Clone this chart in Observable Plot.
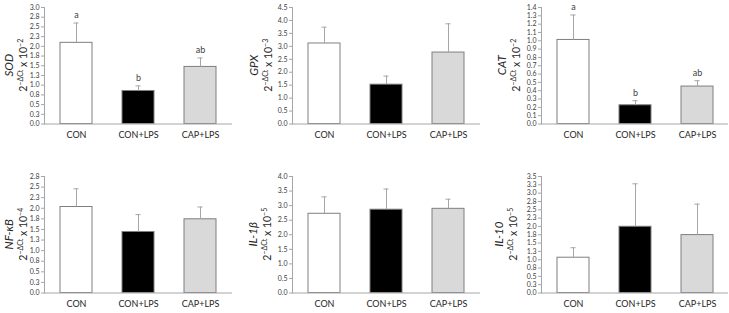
<!DOCTYPE html>
<html>
<head>
<meta charset="utf-8">
<script src="https://cdn.jsdelivr.net/npm/d3@7"></script>
<script src="https://cdn.jsdelivr.net/npm/@observablehq/plot@0.6"></script>
<style>
  body { margin: 0; background: #fff; }
  #wrap { position: relative; width: 729px; height: 313px; overflow: hidden; background: #fff; }
  #wrap svg { position: absolute; }
</style>
</head>
<body>
<div id="wrap"></div>
<script>
// ---- data ----
const categories = ["CON", "CON+LPS", "CAP+LPS"];

const sodMean = [2.09, 0.85, 1.47];
const sodErr  = [0.51, 0.13, 0.23];
const sodLetters = ["a", "b", "ab"];

const gpxMean = [3.11, 1.52, 2.76];
const gpxErr  = [0.63, 0.33, 1.11];
const gpxLetters = ["", "", ""];

const catMean = [1.01, 0.225, 0.45];
const catErr  = [0.30, 0.055, 0.07];
const catLetters = ["a", "b", "ab"];

const nfkbMean = [2.03, 1.44, 1.74];
const nfkbErr  = [0.43, 0.41, 0.29];
const nfkbLetters = ["", "", ""];

const il1bMean = [2.72, 2.86, 2.89];
const il1bErr  = [0.58, 0.71, 0.33];
const il1bLetters = ["", "", ""];

const il10Mean = [1.06, 1.99, 1.74];
const il10Err  = [0.30, 1.29, 0.93];
const il10Letters = ["", "", ""];

const q = ["0.0","0.3","0.5","0.8","1.0","1.3","1.5","1.8","2.0","2.3","2.5","2.8","3.0","3.3","3.5"];
const qVals = [0,0.25,0.5,0.75,1,1.25,1.5,1.75,2,2.25,2.5,2.75,3,3.25,3.5];
const sodTicks = qVals.slice(0, 13), sodTickLabels = q.slice(0, 13);
const gpxTicks = [0,0.5,1,1.5,2,2.5,3,3.5,4,4.5];
const gpxTickLabels = ["0.0","0.5","1.0","1.5","2.0","2.5","3.0","3.5","4.0","4.5"];
const catTicks = [0,0.1,0.2,0.3,0.4,0.5,0.6,0.7,0.8,0.9,1.0,1.1,1.2,1.3,1.4];
const catTickLabels = ["0.0","0.1","0.2","0.3","0.4","0.5","0.6","0.7","0.8","0.9","1.0","1.1","1.2","1.3","1.4"];
const nfkbTicks = qVals.slice(0, 12), nfkbTickLabels = q.slice(0, 12);
const il1bTicks = [0,0.5,1,1.5,2,2.5,3,3.5,4];
const il1bTickLabels = ["0.0","0.5","1.0","1.5","2.0","2.5","3.0","3.5","4.0"];
const il10Ticks = qVals.slice(0, 15), il10TickLabels = q.slice(0, 15);

const fills = ["#ffffff", "#000000", "#d9d9d9"];

// ---- panels (layout only) ----
const panels = [
  {gene: "SOD",   exp: "−2", mean: sodMean,  err: sodErr,  letters: sodLetters,  ticks: sodTicks,  labels: sodTickLabels,  left: 0,   top: 0,   ml: 44, mr: 11, gx: 9,  lx: 23},
  {gene: "GPX",   exp: "−3", mean: gpxMean,  err: gpxErr,  letters: gpxLetters,  ticks: gpxTicks,  labels: gpxTickLabels,  left: 243, top: 0,   ml: 49, mr: 6,  gx: 11, lx: 25},
  {gene: "CAT",   exp: "−2", mean: catMean,  err: catErr,  letters: catLetters,  ticks: catTicks,  labels: catTickLabels,  left: 486, top: 0,   ml: 55, mr: 1,  gx: 16, lx: 30},
  {gene: "NF-κB", exp: "−4", mean: nfkbMean, err: nfkbErr, letters: nfkbLetters, ticks: nfkbTicks, labels: nfkbTickLabels, left: 0,   top: 169, ml: 44, mr: 11, gx: 9,  lx: 23},
  {gene: "IL-1β", exp: "−5", mean: il1bMean, err: il1bErr, letters: il1bLetters, ticks: il1bTicks, labels: il1bTickLabels, left: 243, top: 169, ml: 49, mr: 6,  gx: 10, lx: 24},
  {gene: "IL-10", exp: "−5", mean: il10Mean, err: il10Err, letters: il10Letters, ticks: il10Ticks, labels: il10TickLabels, left: 486, top: 169, ml: 55, mr: 1,  gx: 13, lx: 27}
];

const W = 243, H = 150, MT = 7, MB = 26.5;
const PADI = 0.49;
const wrap = document.getElementById("wrap");

for (const p of panels) {
  const rows = categories.map((c, i) => ({cat: c, mean: p.mean[i], top: p.mean[i] + p.err[i], letter: p.letters[i], fill: fills[i]}));
  const yMax = p.ticks[p.ticks.length - 1];
  const band = (W - p.ml - p.mr) / 3 * (1 - PADI);
  const capInset = (band - 5) / 2;
  const svg = Plot.plot({
    width: W, height: H,
    marginLeft: p.ml, marginRight: p.mr, marginTop: MT, marginBottom: MB,
    style: {fontFamily: "Lato, 'Open Sans', sans-serif", fontSize: "7px", color: "#404040", background: "transparent"},
    x: {domain: categories, paddingInner: PADI, paddingOuter: PADI / 2},
    y: {domain: [0, yMax]},
    marks: [
      Plot.barY(rows, {x: "cat", y: "mean", fill: "fill", stroke: "#7f7f7f", strokeWidth: 1}),
      Plot.ruleX(rows, {x: "cat", y1: "mean", y2: "top", stroke: "#a6a6a6", strokeWidth: 1}),
      Plot.tickY(rows, {x: "cat", y: "top", stroke: "#a6a6a6", strokeWidth: 1, insetLeft: capInset, insetRight: capInset}),
      Plot.text(rows, {x: "cat", y: "top", text: "letter", dy: -8, fontSize: 9, fill: "#404040"}),
      Plot.ruleY([0], {stroke: "#a6a6a6"}),
      Plot.frame({anchor: "left", stroke: "#a6a6a6"}),
      Plot.axisY({ticks: p.ticks, tickFormat: (d) => p.labels[p.ticks.indexOf(d)], tickSize: 3, tickPadding: 2, stroke: "#a6a6a6", fontSize: 7, fill: "#404040", label: null}),
      Plot.axisX({tickSize: 0, tickPadding: 8, fontSize: 9, fill: "#262626", label: null})
    ]
  });
  svg.style.left = p.left + "px";
  svg.style.top = p.top + "px";
  const s = d3.select(svg);
  const cy = (MT + (H - MB)) / 2;
  s.append("text")
    .attr("transform", `translate(${p.gx},${cy}) rotate(-90)`)
    .attr("text-anchor", "middle").attr("dy", "0.35em")
    .attr("font-family", "Lato, sans-serif").attr("font-size", 11.5).attr("font-style", "italic")
    .attr("fill", "#262626")
    .text(p.gene);
  const t = s.append("text")
    .attr("transform", `translate(${p.lx},${cy}) rotate(-90)`)
    .attr("text-anchor", "middle")
    .attr("font-family", "Lato, sans-serif").attr("font-size", 10.5)
    .attr("fill", "#262626");
  t.append("tspan").attr("dy", "0.35em").text("2");
  t.append("tspan").attr("dy", -3.5).attr("font-size", 7).text("−ΔCt");
  t.append("tspan").attr("dy", 3.5).text(" x 10");
  t.append("tspan").attr("dy", -3.5).attr("font-size", 7).text(p.exp);
  wrap.appendChild(svg);
}
</script>
</body>
</html>
